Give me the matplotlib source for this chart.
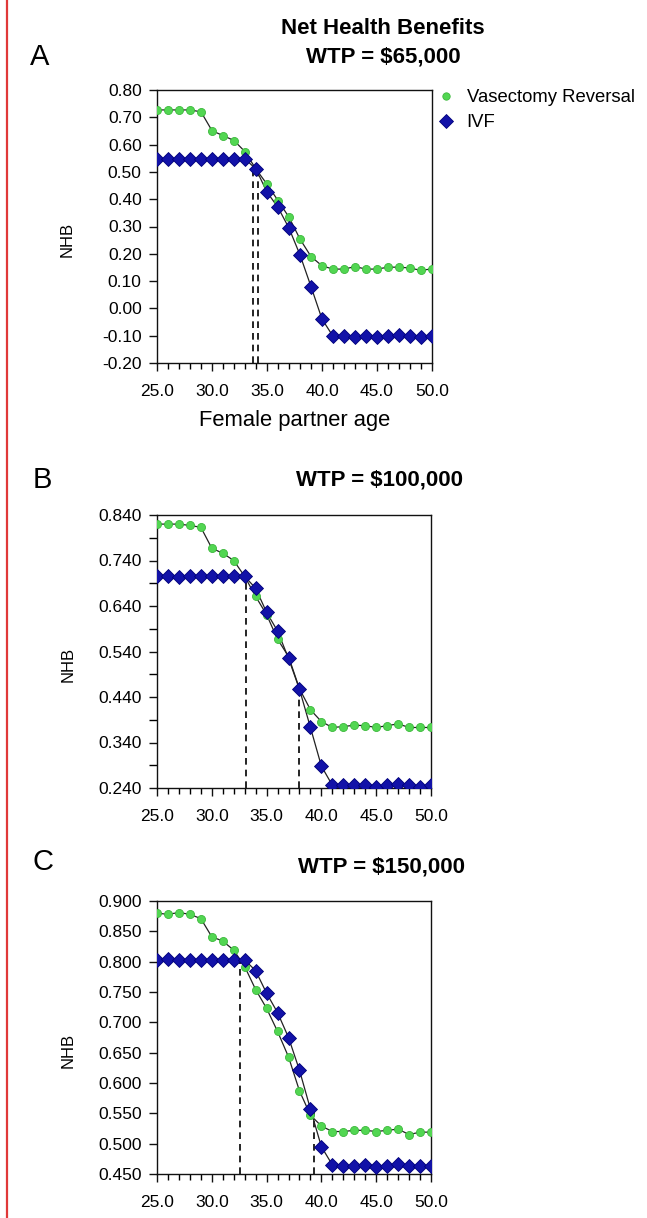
import matplotlib
matplotlib.use("Agg")
import matplotlib.pyplot as plt
from matplotlib.ticker import MultipleLocator, FuncFormatter, FixedLocator
from matplotlib.lines import Line2D

plt.rcParams['font.family'] = ['Liberation Sans', 'DejaVu Sans']

age = list(range(25, 51))

# Panel A: WTP = $65,000
vr_a = [0.727, 0.727, 0.727, 0.727, 0.720, 0.651, 0.633, 0.615, 0.574, 0.510,
        0.455, 0.395, 0.334, 0.254, 0.190, 0.156, 0.144, 0.144, 0.153, 0.144,
        0.144, 0.151, 0.151, 0.148, 0.139, 0.145]
ivf_a = [0.548, 0.548, 0.548, 0.548, 0.548, 0.548, 0.548, 0.548, 0.548, 0.510,
         0.426, 0.370, 0.294, 0.196, 0.080, -0.039, -0.102, -0.102, -0.104, -0.100,
         -0.104, -0.102, -0.096, -0.102, -0.104, -0.102]
thr_a_x = [33.75, 34.2]
thr_a_y = [0.505, 0.505]

# Panel B: WTP = $100,000
vr_b = [0.820, 0.820, 0.820, 0.817, 0.813, 0.767, 0.756, 0.740, 0.705, 0.661,
        0.621, 0.567, 0.529, 0.458, 0.412, 0.386, 0.373, 0.375, 0.378, 0.377,
        0.373, 0.377, 0.381, 0.373, 0.373, 0.373]
ivf_b = [0.705, 0.705, 0.704, 0.705, 0.705, 0.705, 0.706, 0.705, 0.705, 0.679,
         0.626, 0.585, 0.525, 0.457, 0.373, 0.288, 0.246, 0.246, 0.246, 0.246,
         0.242, 0.246, 0.249, 0.246, 0.242, 0.246]
thr_b_x = [33.1, 38.0]
thr_b_y = [0.705, 0.457]

# Panel C: WTP = $150,000
vr_c = [0.880, 0.878, 0.881, 0.878, 0.871, 0.841, 0.834, 0.819, 0.792, 0.754,
        0.723, 0.685, 0.643, 0.587, 0.547, 0.529, 0.520, 0.520, 0.522, 0.522,
        0.520, 0.522, 0.524, 0.515, 0.519, 0.519]
ivf_c = [0.803, 0.804, 0.803, 0.803, 0.803, 0.803, 0.803, 0.803, 0.803, 0.785,
         0.748, 0.716, 0.675, 0.621, 0.557, 0.495, 0.465, 0.463, 0.463, 0.465,
         0.461, 0.463, 0.467, 0.463, 0.463, 0.463]
thr_c_x = [32.55, 39.3]
thr_c_y = [0.803, 0.557]

x_ticks = [25.0, 30.0, 35.0, 40.0, 45.0, 50.0]

GREEN = '#52d652'
GREEN_E = '#3cb83c'
BLUE = '#1212a8'
BLUE_E = '#00007a'

fig = plt.figure(figsize=(6.47, 12.18), dpi=100)

# left red rule
fig.add_artist(Line2D([7/647, 7/647], [0, 1], color='#e03838', lw=1.6,
                      transform=fig.transFigure))

axes_pos = [
    [157/647, 1-363/1218, 275/647, 273/1218],
    [157/647, 1-788/1218, 274/647, 273/1218],
    [157/647, 1-1174/1218, 274/647, 273/1218],
]

panels = [
    (vr_a, ivf_a, thr_a_x, thr_a_y, (-0.20, 0.80), 0.10, None, 2),
    (vr_b, ivf_b, thr_b_x, thr_b_y, (0.240, 0.840), 0.10, 0.05, 3),
    (vr_c, ivf_c, thr_c_x, thr_c_y, (0.450, 0.900), 0.05, None, 3),
]

axs = []
for pos, (vr, ivf, tx, ty, ylim, ymaj, ymin, dec) in zip(axes_pos, panels):
    ax = fig.add_axes(pos)
    axs.append(ax)
    ax.set_xlim(25, 50)
    ax.set_ylim(*ylim)
    for xv, yv in zip(tx, ty):
        ax.plot([xv, xv], [ylim[0], yv], color='black', lw=1.2,
                linestyle=(0, (4, 3)), zorder=2)
    ax.plot(age, vr, color='#222222', lw=0.9, zorder=3)
    ax.plot(age, ivf, color='#222222', lw=0.9, zorder=3)
    ax.plot(age, vr, linestyle='none', marker='o', ms=5.8, mfc=GREEN,
            mec=GREEN_E, mew=0.6, zorder=4)
    ax.plot(age, ivf, linestyle='none', marker='D', ms=7.6, mfc=BLUE,
            mec=BLUE_E, mew=0.6, zorder=5)
    ax.xaxis.set_major_locator(FixedLocator(x_ticks))
    ax.xaxis.set_minor_locator(MultipleLocator(1))
    ax.xaxis.set_major_formatter(FuncFormatter(lambda v, p: f"{v:.1f}"))
    n = int(round((ylim[1] - ylim[0]) / ymaj))
    yt = [ylim[0] + i * ymaj for i in range(n + 1)]
    ax.yaxis.set_major_locator(FixedLocator(yt))
    if ymin:
        m = int(round((ylim[1] - ylim[0]) / ymin))
        ax.yaxis.set_minor_locator(FixedLocator([ylim[0] + i * ymin for i in range(m + 1)]))
    ax.yaxis.set_major_formatter(FuncFormatter(lambda v, p, d=dec: f"{v:.{d}f}".replace('-0.00', '0.00')))
    ax.tick_params(axis='both', which='major', direction='out', length=6,
                   width=1.0, labelsize=12.5, color='#111111')
    ax.tick_params(axis='y', which='major', pad=5)
    ax.tick_params(axis='x', which='major', pad=9)
    ax.tick_params(axis='x', which='minor', direction='out', length=4, width=1.0)
    ax.tick_params(axis='y', which='minor', direction='out', length=6, width=1.0)
    for s in ax.spines.values():
        s.set_linewidth(1.0)
        s.set_color('#111111')
    ax.set_ylabel('NHB', fontsize=12)
    ax.yaxis.set_label_coords((75 - 157) / 275, 0.5 - 13 / 273)

axs[0].set_xlabel('Female partner age', fontsize=15.8, labelpad=8)

# Legend
fig.legend(handles=[
    Line2D([], [], linestyle='none', marker='o', ms=5.3, mfc=GREEN, mec=GREEN_E, mew=0.6),
    Line2D([], [], linestyle='none', marker='D', ms=7, mfc=BLUE, mec=BLUE_E, mew=0.6)],
    labels=['Vasectomy Reversal', 'IVF'],
    loc='upper left', bbox_to_anchor=(439/647, 1-89/1218), frameon=False,
    fontsize=13.3, handlelength=0.8, handletextpad=0.7, labelspacing=0.45,
    borderaxespad=0, borderpad=0)

# Titles and panel letters
fig.text(383/647, 1-29/1218, 'Net Health Benefits', ha='center', va='center',
         fontsize=16, fontweight='bold')
fig.text(383/647, 1-57/1218, 'WTP = $65,000', ha='center', va='center',
         fontsize=16, fontweight='bold')
fig.text(379/647, 1-480/1218, 'WTP = $100,000', ha='center', va='center',
         fontsize=16, fontweight='bold')
fig.text(382/647, 1-867/1218, 'WTP = $150,000', ha='center', va='center',
         fontsize=16, fontweight='bold')

fig.text(40/647, 1-57/1218, 'A', ha='center', va='center', fontsize=21)
fig.text(42/647, 1-480/1218, 'B', ha='center', va='center', fontsize=21)
fig.text(43/647, 1-862/1218, 'C', ha='center', va='center', fontsize=21)

fig.savefig('out.png', dpi=100)
